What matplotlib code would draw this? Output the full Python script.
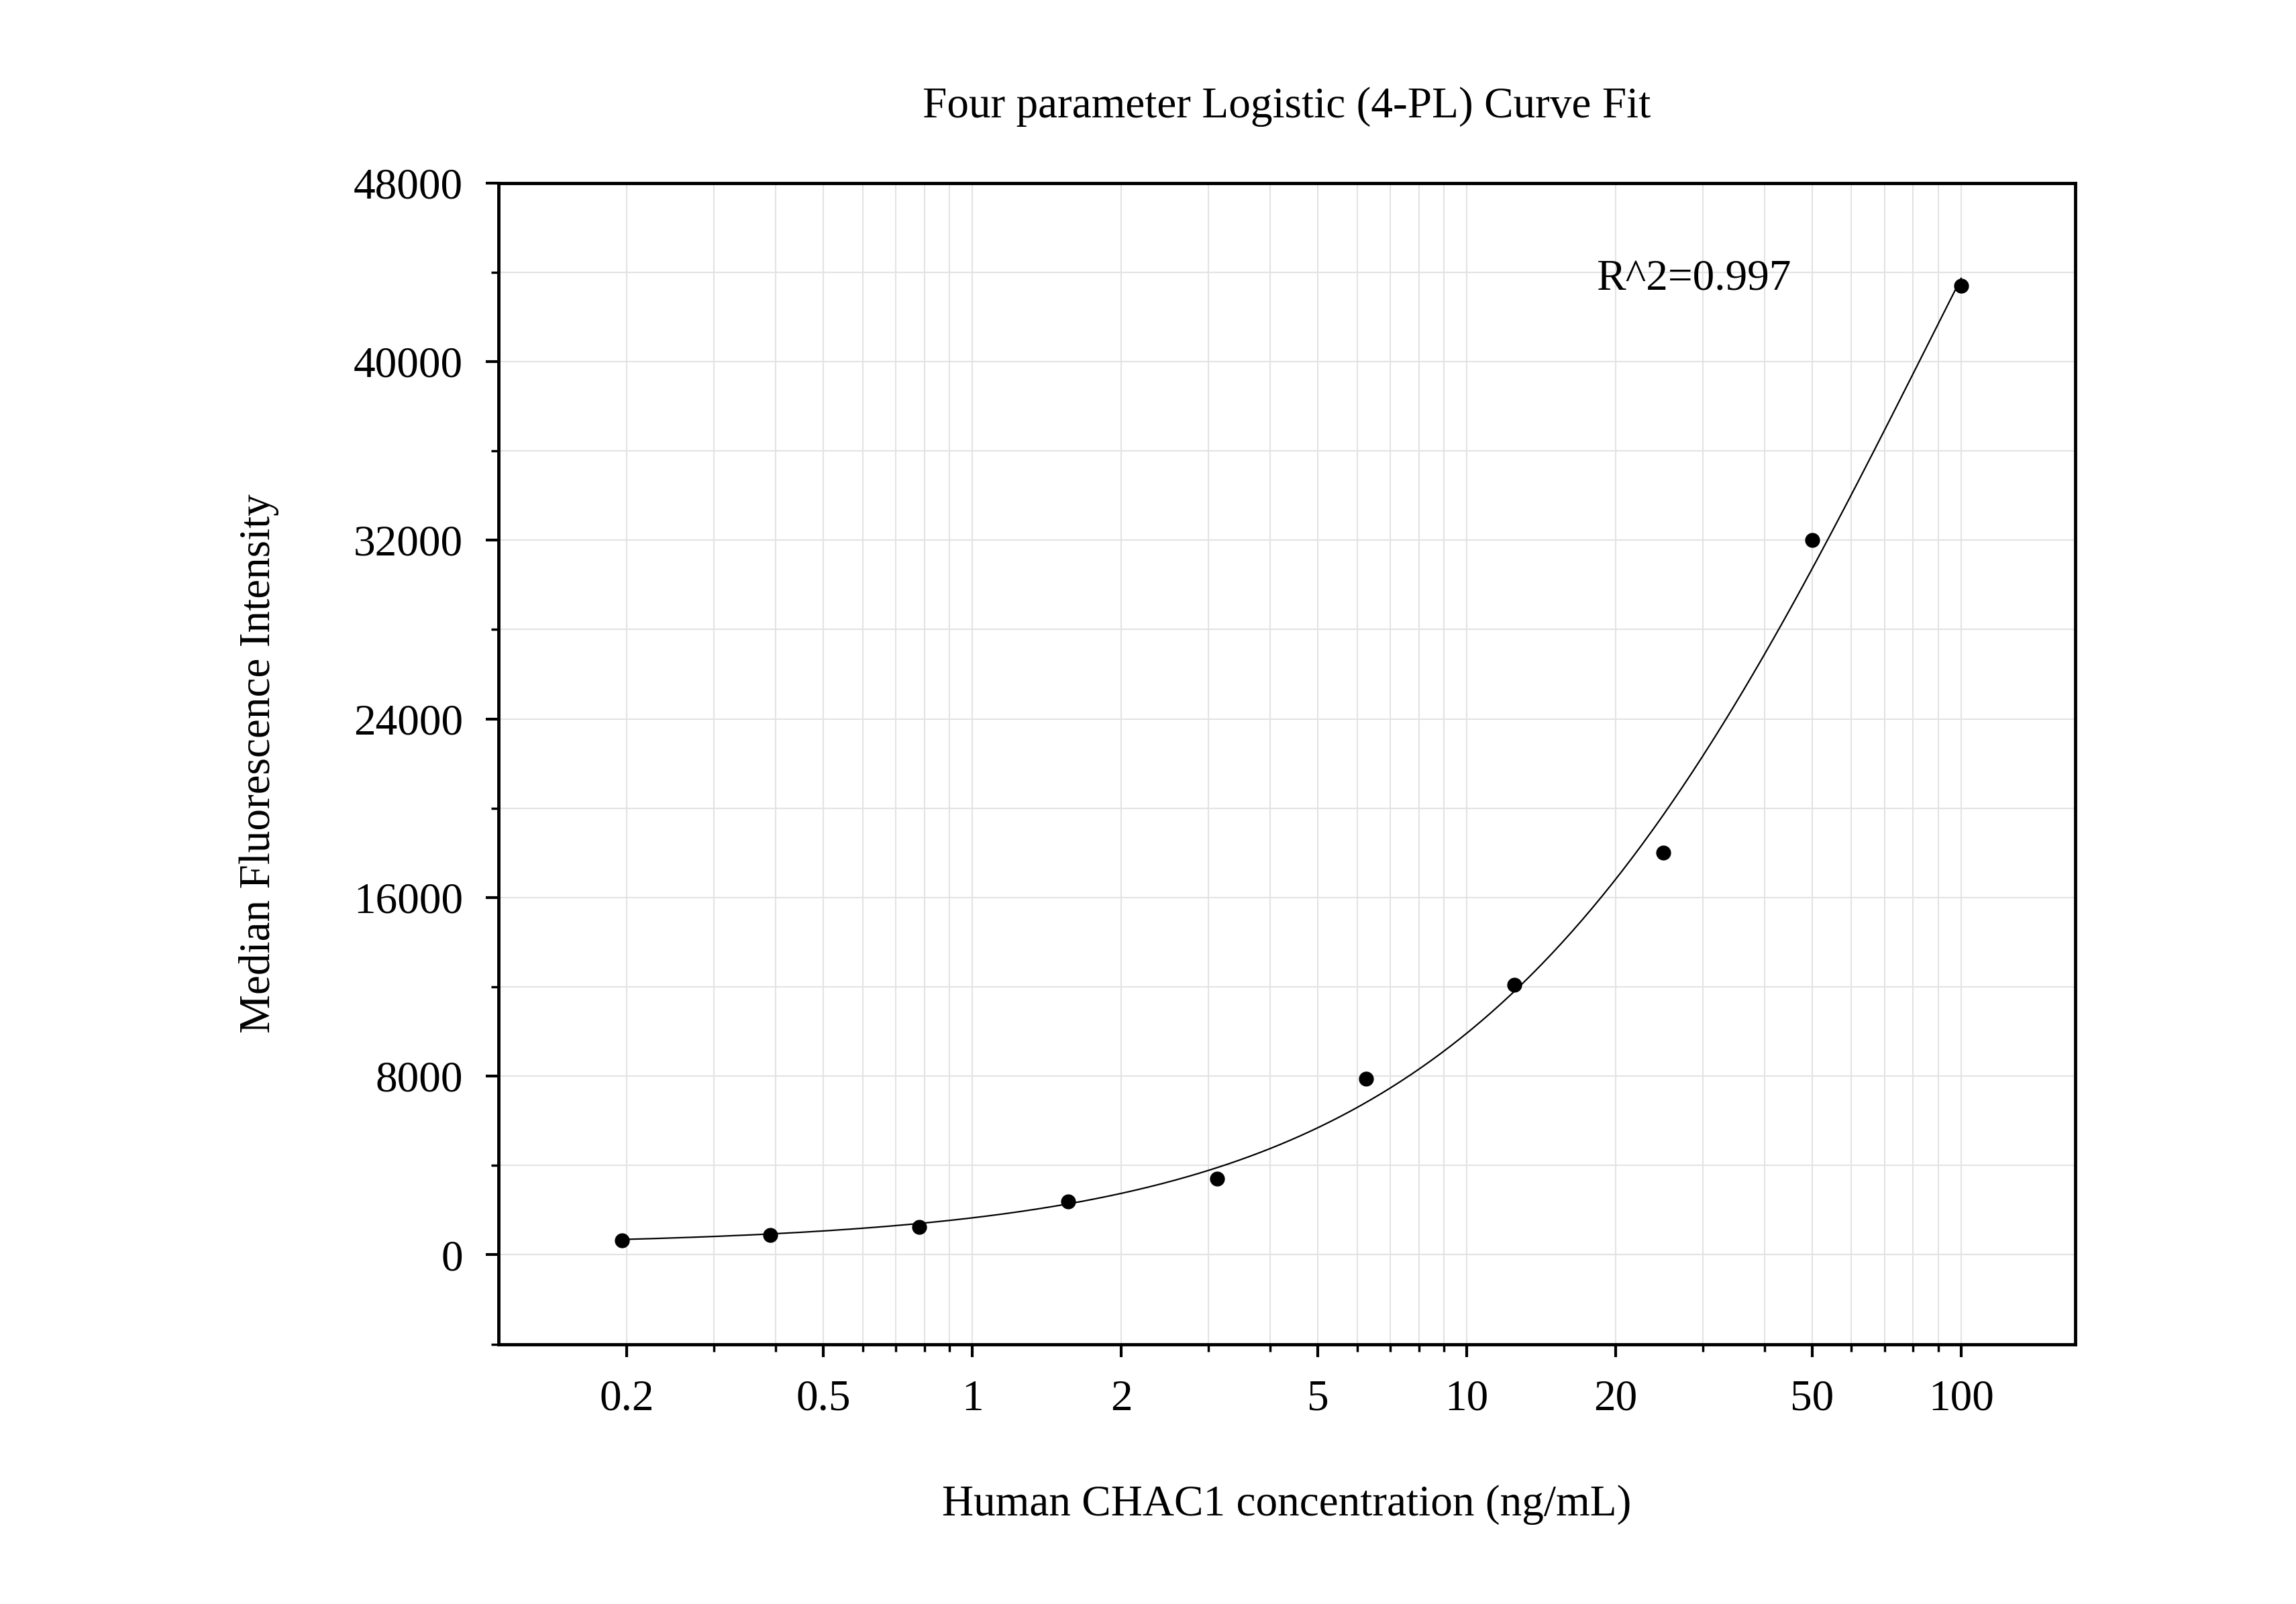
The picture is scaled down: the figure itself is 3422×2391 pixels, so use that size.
import numpy as np
import matplotlib
matplotlib.use("Agg")
import matplotlib.pyplot as plt
from matplotlib.ticker import FixedLocator, NullFormatter, MultipleLocator

# --- data ---
conc = [100, 50, 25, 12.5, 6.25, 3.125, 1.5625, 0.78125, 0.390625, 0.1953125]
mfi = [43400, 32000, 18000, 12100, 7900, 3400, 2400, 1250, 900, 650]
x_ticks = [0.2, 0.5, 1, 2, 5, 10, 20, 50, 100]
x_tick_labels = ["0.2", "0.5", "1", "2", "5", "10", "20", "50", "100"]
y_ticks = [0, 8000, 16000, 24000, 32000, 40000, 48000]
r2_label = "R^2=0.997"

plt.rcParams["font.family"] = "Liberation Serif"
FS = 47

# --- 4PL fit: grid over B, C; A and D solved linearly ---
x = np.array(conc, float)
y = np.array(mfi, float)
best = None
for b in np.linspace(0.5, 2.5, 201):
    for c in np.logspace(0, 3.5, 351):
        g = 1.0 / (1.0 + (c / x) ** b)
        M = np.column_stack([np.ones_like(g), g])
        coef, *_ = np.linalg.lstsq(M, y, rcond=None)
        err = np.sum((M @ coef - y) ** 2)
        if best is None or err < best[0]:
            best = (err, b, c, coef)
_, B, C, (A, S) = best
xs = np.logspace(np.log10(min(conc)), np.log10(max(conc)), 400)
ys = A + S / (1.0 + (C / xs) ** B)

fig = plt.figure(figsize=(34.23, 23.91), dpi=100)
ax = fig.add_axes([0.217, 0.162, 0.6865, 0.724])

ax.plot(xs, ys, color="black", lw=1.6, zorder=3)
ax.plot(conc, mfi, "o", color="black", ms=15, zorder=4)

ax.set_xscale("log")
ax.set_xlim(0.11, 170)
ax.set_ylim(-4000, 48000)
ax.xaxis.set_major_locator(FixedLocator(x_ticks))
ax.set_xticks(x_ticks, x_tick_labels)
ax.xaxis.set_minor_formatter(NullFormatter())
ax.set_yticks(y_ticks)
ax.yaxis.set_minor_locator(MultipleLocator(4000))

ax.grid(True, which="both", color="#e3e3e3", lw=1.5, zorder=0)
ax.tick_params(which="major", direction="out", length=14, width=3, labelsize=FS, pad=24)
ax.tick_params(which="minor", direction="out", length=8, width=2.5)
for s in ax.spines.values():
    s.set_linewidth(3.5)

ax.text(18.3, 43670, r2_label, fontsize=FS, ha="left", va="center")
ax.set_title("Four parameter Logistic (4-PL) Curve Fit", fontsize=FS, pad=70)
ax.set_xlabel("Human CHAC1 concentration (ng/mL)", fontsize=FS, labelpad=70)
ax.set_ylabel("Median Fluorescence Intensity", fontsize=FS, labelpad=80)

fig.savefig("out.png", dpi=100)
